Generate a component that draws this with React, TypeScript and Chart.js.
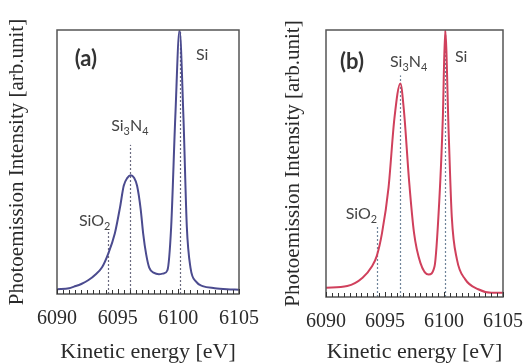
import React, { useEffect, useRef } from 'react';
import { Chart, registerables } from 'chart.js';

Chart.register(...registerables);

// ---------- data ----------
const X_MIN = 6090;
const X_MAX = 6105;
const X_TICK_LABELS = [6090, 6095, 6100, 6105];
const Y_AXIS_TITLE = 'Photoemission Intensity [arb.unit]';
const X_AXIS_TITLE = 'Kinetic energy [eV]';
const PEAK_NAMES = ['SiO2', 'Si3N4', 'Si'];

const ENERGY_A = [
  6090, 6091, 6091.4, 6092, 6092.6, 6093.2, 6093.7, 6094.2, 6094.77, 6095.2, 6095.5, 6095.8, 6096.08,
  6096.35, 6096.6, 6096.9, 6097.1, 6097.35, 6097.6, 6098.0, 6098.4, 6098.8, 6099.1, 6099.41, 6099.75,
  6100.1, 6100.42, 6100.7, 6101.0, 6101.5, 6102.0, 6103, 6104, 6105,
];
const INTENSITY_A = [
  0.018, 0.022, 0.028, 0.038, 0.053, 0.075, 0.1, 0.15, 0.23, 0.33, 0.41, 0.44, 0.45,
  0.44, 0.41, 0.32, 0.23, 0.15, 0.1, 0.08, 0.075, 0.078, 0.09, 0.255, 0.67,
  1.0, 0.67, 0.255, 0.1, 0.045, 0.03, 0.022, 0.018, 0.016,
];

const ENERGY_B = [
  6090, 6091.8, 6093.1, 6093.9, 6094.3, 6094.75, 6095.3, 6095.8, 6096.3, 6096.6, 6097.05, 6097.46,
  6098.0, 6098.7, 6099.2, 6099.6, 6099.9, 6100.1, 6100.4, 6100.66, 6101.1, 6101.8, 6102.9, 6104, 6105,
];
const INTENSITY_B = [
  0.035, 0.041, 0.072, 0.115, 0.153, 0.24, 0.41, 0.67, 0.8, 0.7, 0.43, 0.24,
  0.128, 0.084, 0.115, 0.36, 0.67, 1.0, 0.61, 0.3, 0.14, 0.066, 0.029, 0.016, 0.016,
];

// peak marker lines (energy, top intensity) and label anchors (energy, intensity)
const PEAK_E_A = [6094.2, 6096.05, 6100.1];
const PEAK_TOP_A = [0.24, 0.565, 1.0];
const LABEL_E_A = [6093.1, 6096.0, 6101.97];
const LABEL_I_A = [0.277, 0.636, 0.905];

const PEAK_E_B = [6094.3, 6096.3, 6100.1];
const PEAK_TOP_B = [0.27, 0.83, 1.0];
const LABEL_E_B = [6093.0, 6097.0, 6101.45];
const LABEL_I_B = [0.31, 0.88, 0.9];

const PANEL_LETTERS = ['(a)', '(b)'];
const LETTER_E = [6092.38, 6092.2];
const LETTER_I = [0.89, 0.88];

// ---------- helpers ----------
const SANS = "Lato, 'Open Sans', 'Noto Sans', sans-serif";
const SERIF = "'Liberation Serif', 'DejaVu Serif', serif";

function drawChem(ctx: CanvasRenderingContext2D, text: string, cx: number, cy: number, size: number, weight: string) {
  const parts = text.match(/[^0-9]+|[0-9]+/g) || [];
  let w = 0;
  const segs = parts.map((p) => {
    const sub = /^[0-9]+$/.test(p);
    const fs = sub ? size * 0.68 : size;
    ctx.font = `${weight} ${fs}px ${SANS}`;
    const mw = ctx.measureText(p).width;
    w += mw;
    return { p, sub, fs, mw };
  });
  let x = cx - w / 2;
  ctx.textAlign = 'left';
  ctx.textBaseline = 'middle';
  for (const s of segs) {
    ctx.font = `${weight} ${s.fs}px ${SANS}`;
    ctx.fillText(s.p, x, s.sub ? cy + size * 0.32 : cy);
    x += s.mw;
  }
}

type PanelProps = {
  energies: number[];
  intensities: number[];
  color: string;
  dotColor: string;
  peakE: number[];
  peakTop: number[];
  labelE: number[];
  labelI: number[];
  letter: string;
  letterE: number;
  letterI: number;
  yWidth: number;
  xHeight: number;
  padRight: number;
  yTitlePad: number;
};

function Panel(props: PanelProps) {
  const ref = useRef<HTMLCanvasElement | null>(null);
  useEffect(() => {
    const canvas = ref.current;
    if (!canvas) return;
    const p = props;
    const overlay = {
      id: 'overlay',
      beforeDatasetsDraw(chart: any) {
        const ctx = chart.ctx as CanvasRenderingContext2D;
        const xs = chart.scales.x;
        const ys = chart.scales.y;
        ctx.save();
        ctx.strokeStyle = p.dotColor;
        ctx.lineWidth = 1.2;
        ctx.setLineDash([2, 2]);
        p.peakE.forEach((e, i) => {
          const x = Math.round(xs.getPixelForValue(e)) + 0.5;
          ctx.beginPath();
          ctx.moveTo(x, ys.getPixelForValue(0));
          ctx.lineTo(x, ys.getPixelForValue(p.peakTop[i]));
          ctx.stroke();
        });
        ctx.restore();
      },
      afterDraw(chart: any) {
        const ctx = chart.ctx as CanvasRenderingContext2D;
        const xs = chart.scales.x;
        const ys = chart.scales.y;
        const a = chart.chartArea;
        ctx.save();
        // frame
        ctx.strokeStyle = '#555';
        ctx.lineWidth = 1.5;
        ctx.strokeRect(a.left, a.top, a.right - a.left, a.bottom - a.top);
        // inward ticks
        ctx.strokeStyle = '#333';
        ctx.lineWidth = 1;
        xs.ticks.forEach((t: any) => {
          const x = Math.round(xs.getPixelForValue(t.value)) + 0.5;
          const major = X_TICK_LABELS.includes(t.value);
          ctx.beginPath();
          ctx.moveTo(x, a.bottom);
          ctx.lineTo(x, a.bottom - (major ? 5 : 4));
          ctx.stroke();
        });
        // labels
        ctx.fillStyle = '#444';
        PEAK_NAMES.forEach((name, i) => {
          drawChem(ctx, name, xs.getPixelForValue(p.labelE[i]), ys.getPixelForValue(p.labelI[i]), 16, 'normal');
        });
        ctx.fillStyle = '#333';
        drawChem(ctx, p.letter, xs.getPixelForValue(p.letterE), ys.getPixelForValue(p.letterI), 22, 'bold');
        ctx.restore();
      },
    };
    const chart = new Chart(canvas, {
      type: 'line',
      data: {
        datasets: [
          {
            data: p.energies.map((e, i) => ({ x: e, y: p.intensities[i] })),
            borderColor: p.color,
            borderWidth: 2,
            pointRadius: 0,
            fill: false,
            cubicInterpolationMode: 'monotone',
          },
        ],
      },
      options: {
        responsive: false,
        animation: false,
        events: [],
        layout: { padding: { left: 0, right: p.padRight, top: 30, bottom: 0 } },
        plugins: { legend: { display: false }, tooltip: { enabled: false } },
        scales: {
          x: {
            type: 'linear',
            min: X_MIN,
            max: X_MAX,
            grid: { display: false },
            border: { display: false },
            afterFit: (s: any) => {
              s.height = p.xHeight;
            },
            ticks: {
              stepSize: 0.5,
              autoSkip: false,
              maxRotation: 0,
              padding: 5,
              color: '#2a2a2a',
              font: { family: SERIF, size: 20 },
              callback: (v: any) => (X_TICK_LABELS.includes(Number(v)) ? String(v) : ''),
            },
            title: {
              display: true,
              text: X_AXIS_TITLE,
              color: '#2a2a2a',
              font: { family: SERIF, size: 22 },
              padding: { top: 0, bottom: -2 },
            },
          },
          y: {
            type: 'linear',
            min: 0,
            max: 1,
            grid: { display: false },
            border: { display: false },
            ticks: { display: false },
            afterFit: (s: any) => {
              s.width = p.yWidth;
            },
            title: {
              display: true,
              text: Y_AXIS_TITLE,
              color: '#2a2a2a',
              font: { family: SERIF, size: 21 },
              padding: { top: p.yTitlePad, bottom: 0 },
            },
          },
        },
      },
      plugins: [overlay],
    } as any);
    return () => chart.destroy();
  }, []);
  return <canvas ref={ref} width={264} height={363} style={{ display: 'block' }} />;
}

export default function App() {
  return (
    <div style={{ position: 'absolute', left: 0, top: 0, width: 528, height: 363, background: '#fff', display: 'flex' }}>
      <Panel
        energies={ENERGY_A}
        intensities={INTENSITY_A}
        color="#4b4b8f"
        dotColor="#6a6a80"
        peakE={PEAK_E_A}
        peakTop={PEAK_TOP_A}
        labelE={LABEL_E_A}
        labelI={LABEL_I_A}
        letter={PANEL_LETTERS[0]}
        letterE={LETTER_E[0]}
        letterI={LETTER_I[0]}
        yWidth={57}
        xHeight={69}
        padRight={24}
        yTitlePad={5}
      />
      <Panel
        energies={ENERGY_B}
        intensities={INTENSITY_B}
        color="#d0405c"
        dotColor="#6f8499"
        peakE={PEAK_E_B}
        peakTop={PEAK_TOP_B}
        labelE={LABEL_E_B}
        labelI={LABEL_I_B}
        letter={PANEL_LETTERS[1]}
        letterE={LETTER_E[1]}
        letterI={LETTER_I[1]}
        yWidth={62}
        xHeight={66}
        padRight={18}
        yTitlePad={17}
      />
    </div>
  );
}
